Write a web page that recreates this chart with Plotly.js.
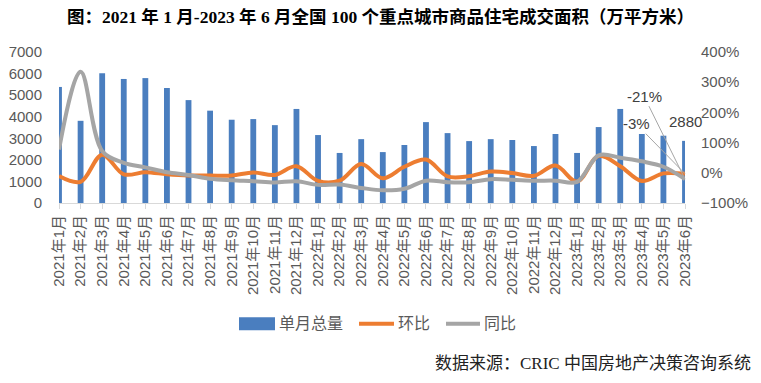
<!DOCTYPE html>
<html><head><meta charset="utf-8">
<script src="https://cdn.plot.ly/plotly-3.0.1.min.js"></script>
<style>html,body{margin:0;padding:0;background:#fff}#c{width:761px;height:383px}</style>
</head><body><div id="c"></div>
<script>
const categories = ["2021年1月","2021年2月","2021年3月","2021年4月","2021年5月","2021年6月","2021年7月","2021年8月","2021年9月","2021年10月","2021年11月","2021年12月",
"2022年1月","2022年2月","2022年3月","2022年4月","2022年5月","2022年6月","2022年7月","2022年8月","2022年9月","2022年10月","2022年11月","2022年12月",
"2023年1月","2023年2月","2023年3月","2023年4月","2023年5月","2023年6月"];
const monthlyTotal = [5380,3810,6020,5750,5790,5330,4770,4280,3860,3890,3610,4360,3150,2320,2960,2360,2690,3750,3240,2870,2960,2920,2640,3200,2320,3520,4360,3200,3120,2880];
const momPct = [-11,-30,60,-5,2,-5,-9,-9,-9,1,-7,22,-27,-26,29,-18,20,44,-12,-11,4,-1,-10,24,-29,56,22,-27,-2,-3];
const yoyPct = [77,335,72,33,18,2,-7,-20,-25,-28,-32,-28,-40,-39,-50,-58,-53,-26,-31,-31,-21,-23,-26,-26,-30,58,50,38,20,-21];
const seriesNames = ["单月总量","环比","同比"];
const colors = {bar:"#4a7ebf", mom:"#ed7d31", yoy:"#a5a5a5"};

const W=761,H=383, L=59, R=685, T=52.3, B=203.3;
const px = x => (x-L)/(R-L);
const py = y => (B-y)/(B-T);
const fontSans = "Liberation Sans, Noto Sans CJK SC, sans-serif";
const fontSerif = "Liberation Serif, Noto Sans CJK SC, serif";
const n = categories.length-1;

const traces = [
 {type:"bar", x:categories, y:monthlyTotal, name:seriesNames[0], marker:{color:colors.bar}, width:0.27, showlegend:false, hoverinfo:"skip"},
 {type:"scatter", mode:"lines", x:categories, y:momPct, yaxis:"y2", name:seriesNames[1], line:{color:colors.mom, width:4, shape:"spline", smoothing:1}, showlegend:false},
 {type:"scatter", mode:"lines", x:categories, y:yoyPct, yaxis:"y2", name:seriesNames[2], line:{color:colors.yoy, width:4, shape:"spline", smoothing:1}, showlegend:false}
];

const legendY = py(324);
const shapes = [
 {type:"rect", xref:"paper", yref:"paper", x0:px(239), x1:px(275), y0:py(317.5), y1:py(330.5), fillcolor:colors.bar, line:{width:0}},
 {type:"line", xref:"paper", yref:"paper", x0:px(359), x1:px(394), y0:legendY, y1:legendY, line:{color:colors.mom, width:4}},
 {type:"line", xref:"paper", yref:"paper", x0:px(446), x1:px(480), y0:legendY, y1:legendY, line:{color:colors.yoy, width:4}}
];

const annotations = [
 {xref:"paper", yref:"paper", x:px(277), y:legendY, xanchor:"left", yanchor:"middle", text:seriesNames[0], showarrow:false, font:{family:fontSans, size:16, color:"#595959"}},
 {xref:"paper", yref:"paper", x:px(396), y:legendY, xanchor:"left", yanchor:"middle", text:seriesNames[1], showarrow:false, font:{family:fontSans, size:16, color:"#595959"}},
 {xref:"paper", yref:"paper", x:px(482), y:legendY, xanchor:"left", yanchor:"middle", text:seriesNames[2], showarrow:false, font:{family:fontSans, size:16, color:"#595959"}},
 {xref:"paper", yref:"paper", x:px(753), y:py(364), xanchor:"right", yanchor:"middle", text:"数据来源：CRIC 中国房地产决策咨询系统", showarrow:false, font:{family:fontSerif, size:17, color:"#222"}},
 {x:categories[n], y:monthlyTotal[n], xref:"x", yref:"y", text:String(monthlyTotal[n]), showarrow:false, xanchor:"center", yanchor:"middle", yshift:19, font:{family:fontSans, size:15, color:"#404040"}},
 {x:categories[n], y:yoyPct[n], xref:"x", yref:"y2", text:yoyPct[n]+"%", showarrow:true, arrowhead:0, arrowwidth:1, arrowcolor:"#a6a6a6", ax:-41, ay:-83, standoff:0, font:{family:fontSans, size:15, color:"#404040"}},
 {x:categories[n], y:momPct[n], xref:"x", yref:"y2", text:momPct[n]+"%", showarrow:true, arrowhead:0, arrowwidth:1, arrowcolor:"#a6a6a6", ax:-49, ay:-50, standoff:0, font:{family:fontSans, size:15, color:"#404040"}}
];

const layout = {
 width:W, height:H, margin:{l:L, r:W-R, t:T, b:H-B, pad:0},
 paper_bgcolor:"#fff", plot_bgcolor:"#fff",
 title:{text:"图：2021 年 1 月-2023 年 6 月全国 100 个重点城市商品住宅成交面积（万平方米）", x:0.5, xref:"container", xanchor:"center", y:1-17/H, yref:"container", yanchor:"middle", font:{family:fontSerif, size:17.5, color:"#000", weight:"bold"}},
 font:{family:fontSans, color:"#595959"},
 showlegend:false,
 xaxis:{type:"category", range:[0,n], showgrid:false, zeroline:false, showline:true, linecolor:"#d9d9d9", linewidth:1, ticks:"outside", ticklen:5, tickcolor:"#d9d9d9", tickangle:-90, tickfont:{size:15, color:"#595959"}, automargin:false},
 yaxis:{range:[0,7000], dtick:1000, showgrid:false, zeroline:false, showline:false, ticks:"", tickfont:{size:15, color:"#595959"}, ticklabelstandoff:16, automargin:false},
 yaxis2:{overlaying:"y", side:"right", range:[-100,400], dtick:100, ticksuffix:"%", showgrid:false, zeroline:false, showline:false, ticks:"", tickfont:{size:15, color:"#595959"}, ticklabelstandoff:15, automargin:false},
 shapes:shapes, annotations:annotations
};
Plotly.newPlot("c", traces, layout, {displayModeBar:false, staticPlot:true});
</script></body></html>
